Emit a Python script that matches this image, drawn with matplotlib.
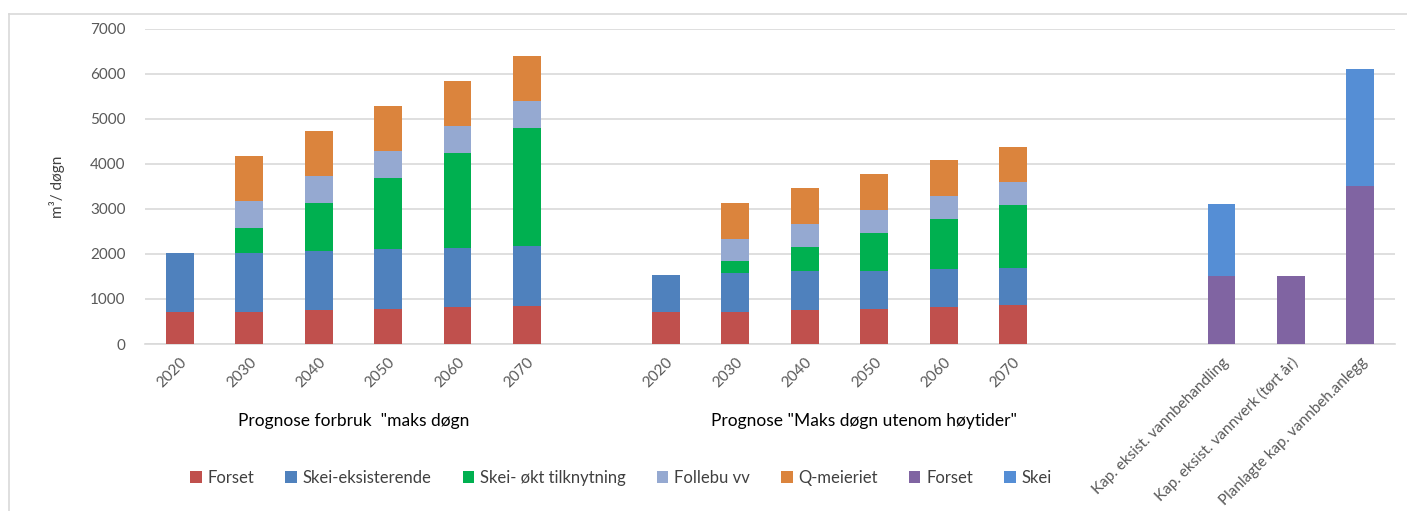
import matplotlib
matplotlib.use("Agg")
import matplotlib.pyplot as plt
from matplotlib.lines import Line2D
import matplotlib.transforms as mtransforms
import numpy as np

plt.rcParams['font.family'] = ['Lato', 'DejaVu Sans']

# ---- data ----
categories = ["2020", "2030", "2040", "2050", "2060", "2070", "",
              "2020", "2030", "2040", "2050", "2060", "2070", "", "",
              "Kap. eksist. vannbehandling", "Kap. eksist. vannverk (tørt år)",
              "Planlagte kap. vannbeh.anlegg"]

forset = [700, 720, 750, 780, 820, 850, 0,
          700, 720, 750, 780, 820, 855, 0, 0,
          0, 0, 0]
skei_eks = [1320, 1310, 1320, 1325, 1315, 1320, 0,
            830, 850, 860, 850, 835, 835, 0, 0,
            0, 0, 0]
skei_okt = [0, 540, 1055, 1570, 2100, 2625, 0,
            0, 265, 550, 845, 1130, 1405, 0, 0,
            0, 0, 0]
follebu = [0, 600, 605, 605, 600, 590, 0,
           0, 500, 495, 490, 495, 505, 0, 0,
           0, 0, 0]
q_meieriet = [0, 1005, 990, 995, 995, 1000, 0,
              0, 805, 805, 800, 800, 776, 0, 0,
              0, 0, 0]
kap_forset = [0] * 15 + [1500, 1500, 3500]
kap_skei = [0] * 15 + [1600, 0, 2600]

series_names = ["Forset", "Skei-eksisterende", "Skei- økt tilknytning",
                "Follebu vv", "Q-meieriet", "Forset", "Skei"]
series_values = [forset, skei_eks, skei_okt, follebu, q_meieriet, kap_forset, kap_skei]
colors = ["#C0504D", "#4F81BD", "#00B050", "#95A9D1", "#DB843D", "#8064A2", "#558ED5"]

group_labels = ['Prognose forbruk  "maks døgn', 'Prognose "Maks døgn utenom høytider"']
yticks = [0, 1000, 2000, 3000, 4000, 5000, 6000, 7000]

# ---- figure ----
W, H = 1407, 511
fig = plt.figure(figsize=(W / 100, H / 100), dpi=100)
ax = fig.add_axes([145 / W, 1 - 344 / H, (1395 - 145) / W, (344 - 28.7) / H])

x = np.arange(len(categories))
bottom = np.zeros(len(categories))
handles = []
for name, vals, col in zip(series_names, series_values, colors):
    v = np.array(vals, dtype=float)
    b = ax.bar(x, v, bottom=bottom, width=0.40, color=col, label=name, zorder=3)
    bottom += v
    handles.append(b)

ax.set_xlim(-0.5, len(categories) - 0.5)
ax.set_ylim(0, 7000)
ax.set_yticks(yticks)
ax.set_yticklabels([str(t) for t in yticks], fontsize=11, color="#595959")
ax.yaxis.grid(True, color="#D9D9D9", linewidth=1.2, zorder=0)
ax.set_axisbelow(True)
for s in ["left", "right", "top"]:
    ax.spines[s].set_visible(False)
ax.spines["bottom"].set_color("#D9D9D9")
ax.spines["bottom"].set_linewidth(1.2)
ax.tick_params(axis="y", length=0, pad=14)
ax.tick_params(axis="x", length=0, pad=8)

ax.set_xticks(x)
ax.set_xticklabels(categories, rotation=45, ha="right", rotation_mode="anchor",
                   fontsize=11, color="#595959")

ax.set_ylabel("m³/ døgn", fontsize=11, color="#404040")
ax.yaxis.set_label_coords(-(145 - 65) / (1395 - 145), (344 - 187) / (344 - 28.7))

# group labels
trans = mtransforms.blended_transform_factory(ax.transData, fig.transFigure)
ax.text(2.5, 1 - 421 / H, group_labels[0], transform=trans, ha="center", va="center",
        fontsize=12.5, color="#000000")
ax.text(9.86, 1 - 421 / H, group_labels[1], transform=trans, ha="center", va="center",
        fontsize=12.5, color="#000000")

# legend
leg = fig.legend(handles, series_names, loc="center", bbox_to_anchor=(621 / W, 1 - 478 / H),
                 ncol=7, frameon=False, fontsize=12, handlelength=0.7, handleheight=0.7,
                 handletextpad=0.35, columnspacing=1.85, labelcolor="#404040")

# chart area border (top and left visible)
fig.add_artist(Line2D([9 / W, 1.0], [1 - 14 / H, 1 - 14 / H], transform=fig.transFigure,
                      color="#D9D9D9", linewidth=1.2))
fig.add_artist(Line2D([9 / W, 9 / W], [0, 1 - 14 / H], transform=fig.transFigure,
                      color="#D9D9D9", linewidth=1.2))

fig.savefig("out.png", dpi=100, facecolor="white")
